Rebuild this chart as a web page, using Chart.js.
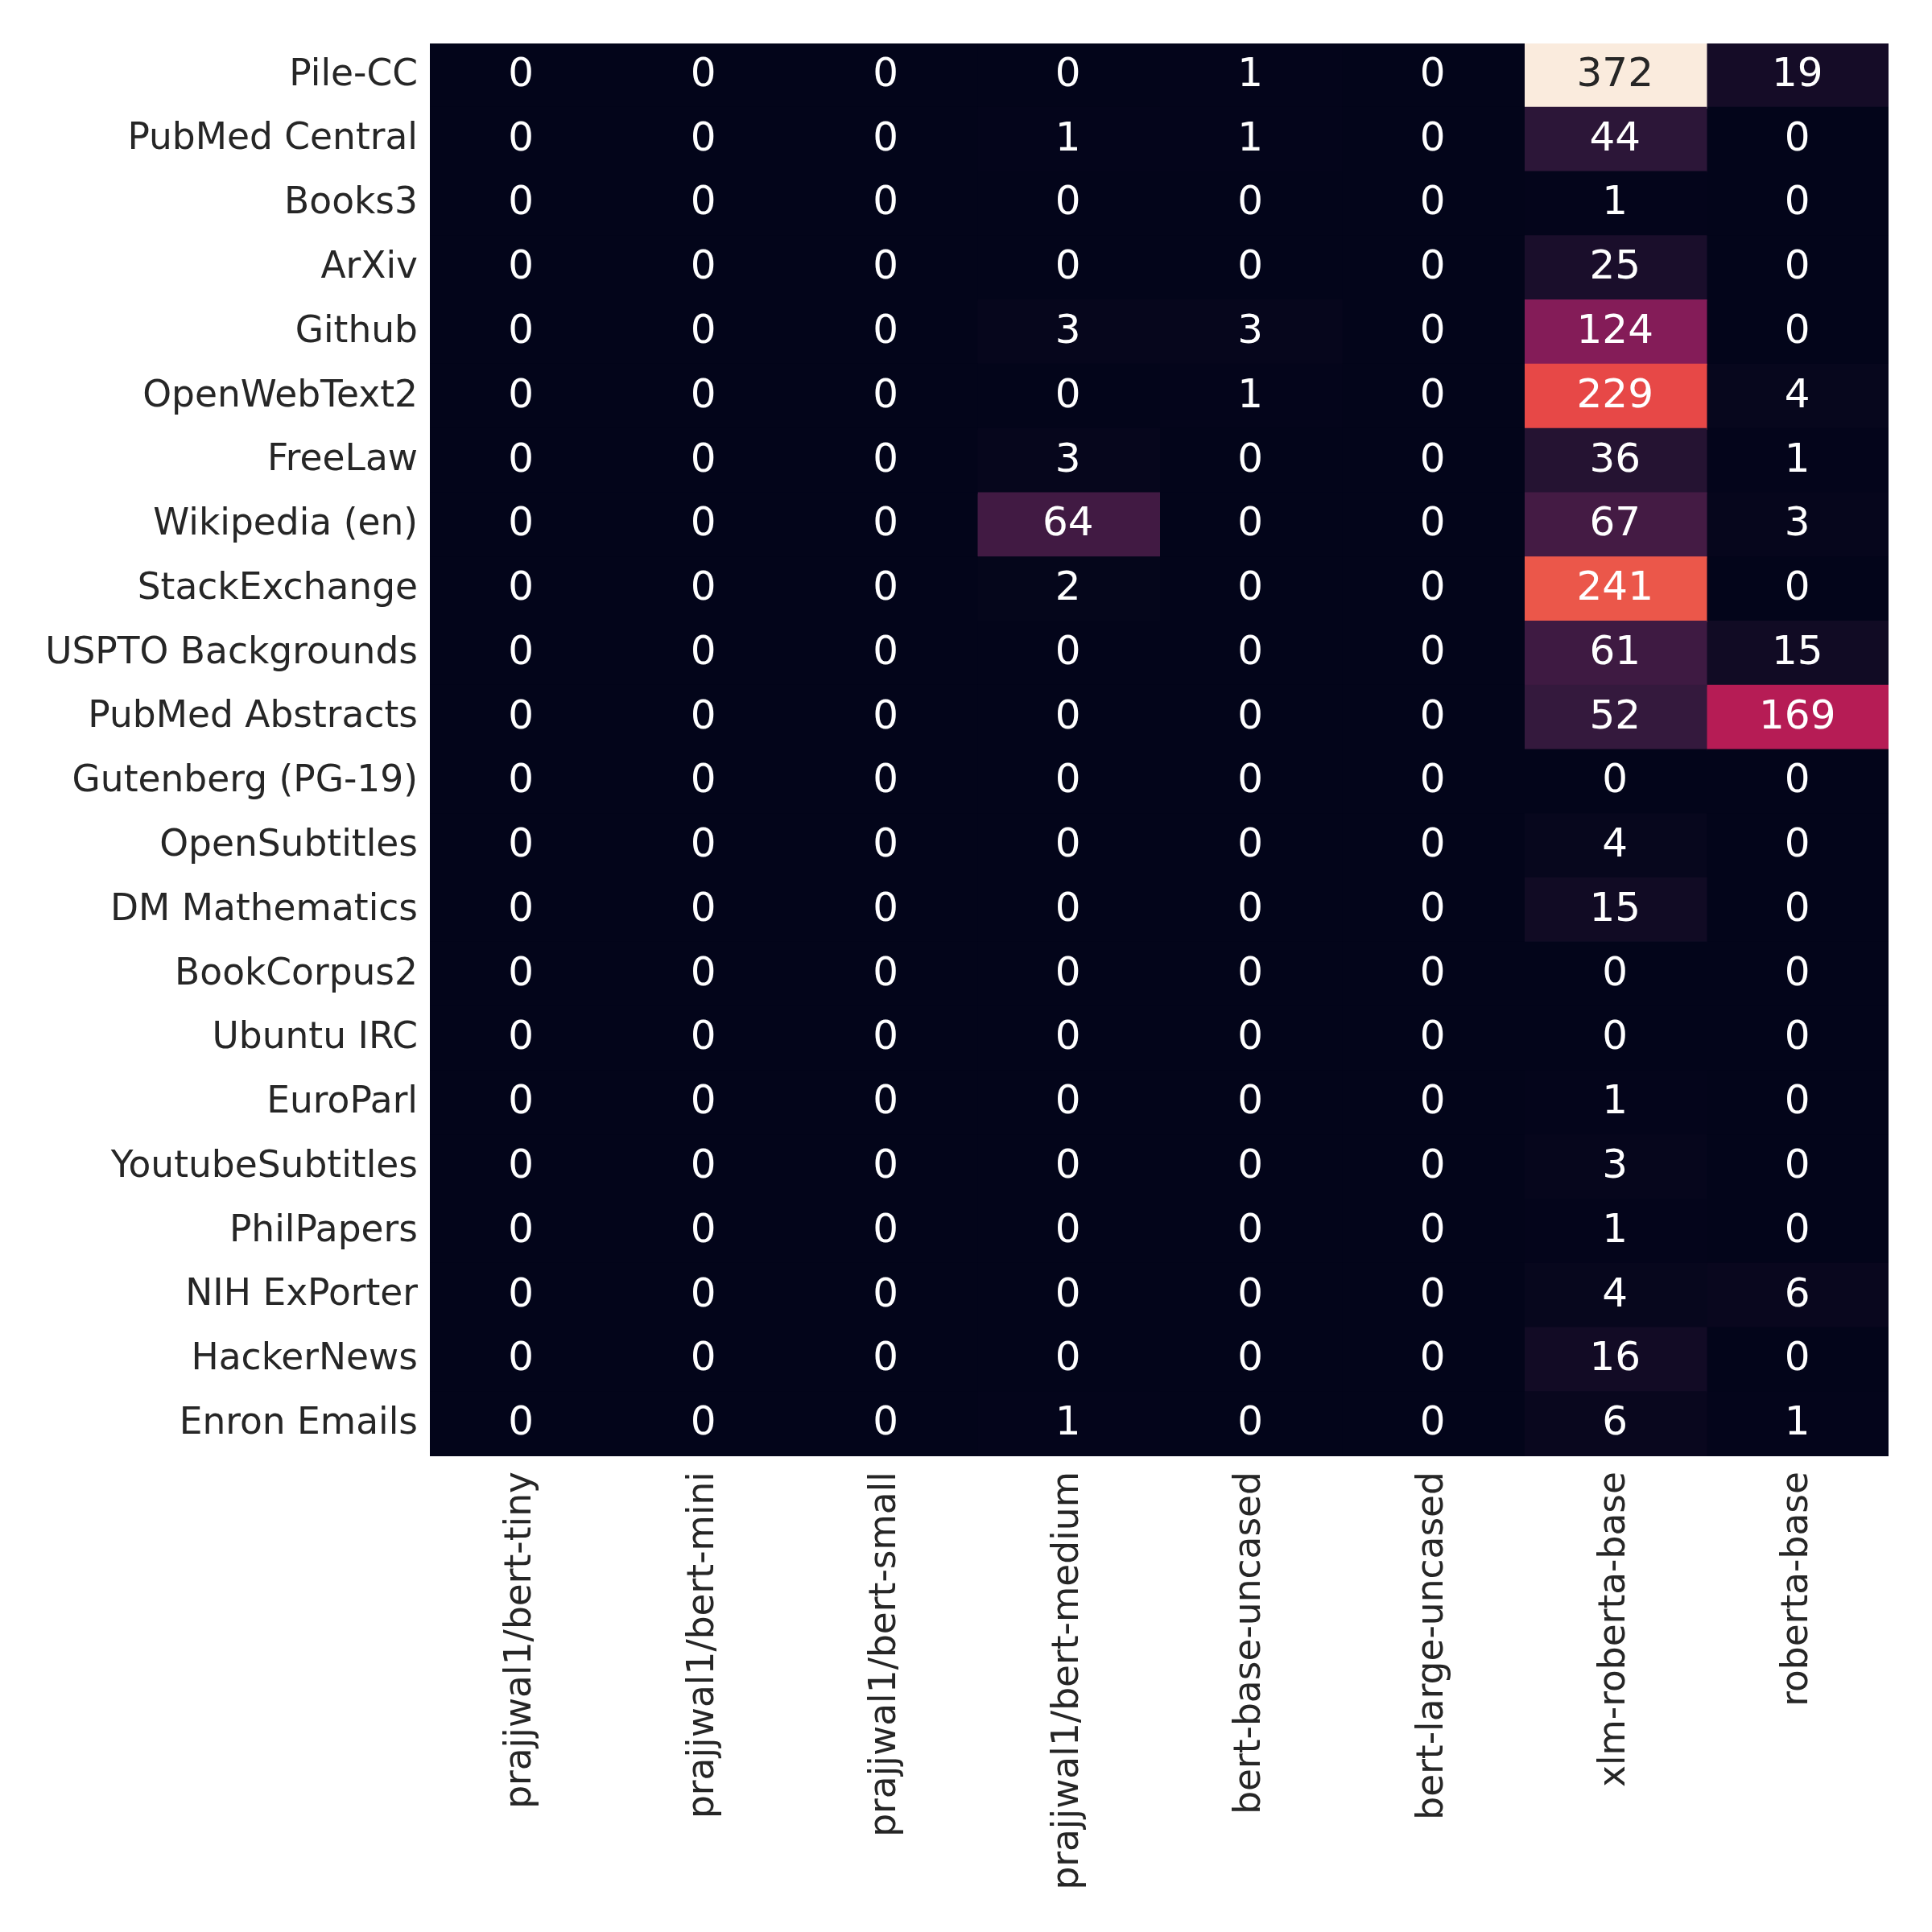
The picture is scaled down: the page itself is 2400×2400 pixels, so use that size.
<!DOCTYPE html>
<html>
<head>
<meta charset="utf-8">
<script src="https://cdn.jsdelivr.net/npm/chart.js@4/dist/chart.umd.min.js"></script>
<style>
  html, body { margin: 0; padding: 0; background: #ffffff; }
  #wrap { width: 2400px; height: 2400px; }
</style>
</head>
<body>
<div id="wrap"><canvas id="heatmap" width="2400" height="2400"></canvas></div>
<script>
// rows of the heatmap (Pile subsets)
const sources = ['Pile-CC', 'PubMed Central', 'Books3', 'ArXiv', 'Github', 'OpenWebText2', 'FreeLaw',
  'Wikipedia (en)', 'StackExchange', 'USPTO Backgrounds', 'PubMed Abstracts', 'Gutenberg (PG-19)',
  'OpenSubtitles', 'DM Mathematics', 'BookCorpus2', 'Ubuntu IRC', 'EuroParl', 'YoutubeSubtitles',
  'PhilPapers', 'NIH ExPorter', 'HackerNews', 'Enron Emails'];

// columns (models)
const models = ['prajjwal1/bert-tiny', 'prajjwal1/bert-mini', 'prajjwal1/bert-small', 'prajjwal1/bert-medium',
  'bert-base-uncased', 'bert-large-uncased', 'xlm-roberta-base', 'roberta-base'];

// counts per model, one value per source (same order as sources)
const bertTiny   = [0, 0, 0, 0, 0, 0, 0, 0, 0, 0, 0, 0, 0, 0, 0, 0, 0, 0, 0, 0, 0, 0];
const bertMini   = [0, 0, 0, 0, 0, 0, 0, 0, 0, 0, 0, 0, 0, 0, 0, 0, 0, 0, 0, 0, 0, 0];
const bertSmall  = [0, 0, 0, 0, 0, 0, 0, 0, 0, 0, 0, 0, 0, 0, 0, 0, 0, 0, 0, 0, 0, 0];
const bertMedium = [0, 1, 0, 0, 3, 0, 3, 64, 2, 0, 0, 0, 0, 0, 0, 0, 0, 0, 0, 0, 0, 1];
const bertBase   = [1, 1, 0, 0, 3, 1, 0, 0, 0, 0, 0, 0, 0, 0, 0, 0, 0, 0, 0, 0, 0, 0];
const bertLarge  = [0, 0, 0, 0, 0, 0, 0, 0, 0, 0, 0, 0, 0, 0, 0, 0, 0, 0, 0, 0, 0, 0];
const xlmRoberta = [372, 44, 1, 25, 124, 229, 36, 67, 241, 61, 52, 0, 4, 15, 0, 0, 1, 3, 1, 4, 16, 6];
const roberta    = [19, 0, 0, 0, 0, 4, 1, 3, 0, 15, 169, 0, 0, 0, 0, 0, 0, 0, 0, 6, 0, 1];

const columns = [bertTiny, bertMini, bertSmall, bertMedium, bertBase, bertLarge, xlmRoberta, roberta];

// seaborn "rocket" colormap, sampled stops
const rocket = [
  [0.000, [3, 5, 26]],
  [0.143, [53, 25, 62]],
  [0.286, [112, 31, 87]],
  [0.429, [173, 23, 89]],
  [0.571, [225, 51, 66]],
  [0.714, [243, 118, 81]],
  [0.857, [246, 180, 143]],
  [1.000, [250, 235, 221]]
];

const vmax = Math.max(...columns.flat());

function rocketRGB(v) {
  const t = Math.min(1, Math.max(0, v / vmax));
  for (let i = 1; i < rocket.length; i++) {
    if (t <= rocket[i][0]) {
      const [t0, c0] = rocket[i - 1];
      const [t1, c1] = rocket[i];
      const f = (t - t0) / (t1 - t0);
      return c0.map((c, k) => Math.round(c + (c1[k] - c) * f));
    }
  }
  return rocket[rocket.length - 1][1];
}

function rgbStr(c) {
  return 'rgb(' + c.join(',') + ')';
}

function luminance(c) {
  const lin = c.map(x => {
    x = x / 255;
    return x <= 0.03928 ? x / 12.92 : Math.pow((x + 0.055) / 1.055, 2.4);
  });
  return 0.2126 * lin[0] + 0.7152 * lin[1] + 0.0722 * lin[2];
}

// each model becomes one dataset of floating horizontal bars spanning its column
const datasets = columns.map((vals, ci) => ({
  label: models[ci],
  data: vals.map(() => [ci, ci + 1]),
  counts: vals,
  backgroundColor: vals.map(v => rgbStr(rocketRGB(v))),
  borderWidth: 0,
  inflateAmount: 1,
  barPercentage: 1,
  categoryPercentage: 1
}));

// draw the count in the middle of every cell
const cellLabels = {
  id: 'cellLabels',
  afterDatasetsDraw(chart) {
    const ctx = chart.ctx;
    ctx.save();
    ctx.font = '50px "DejaVu Sans"';
    ctx.textAlign = 'center';
    ctx.textBaseline = 'alphabetic';
    chart.data.datasets.forEach((ds, di) => {
      chart.getDatasetMeta(di).data.forEach((bar, ri) => {
        const v = ds.counts[ri];
        const p = bar.getCenterPoint();
        ctx.fillStyle = luminance(rocketRGB(v)) > 0.408 ? '#262626' : '#ffffff';
        ctx.fillText(String(v), p.x, p.y + 13);
      });
    });
    ctx.restore();
  }
};

new Chart(document.getElementById('heatmap'), {
  type: 'bar',
  data: {
    labels: sources,
    datasets: datasets
  },
  options: {
    indexAxis: 'y',
    responsive: false,
    animation: false,
    devicePixelRatio: 1,
    layout: {
      padding: { left: 0, top: 54, right: 54, bottom: 0 }
    },
    scales: {
      x: {
        type: 'linear',
        min: 0,
        max: models.length,
        grid: { display: false, drawTicks: false },
        border: { display: false },
        afterBuildTicks: (scale) => {
          scale.ticks = models.map((m, i) => ({ value: i + 0.5 }));
        },
        afterFit: (scale) => { scale.height = 591; },
        ticks: {
          autoSkip: false,
          minRotation: 90,
          maxRotation: 90,
          padding: 19,
          color: '#262626',
          font: { family: 'DejaVu Sans', size: 45.5 },
          callback: (v) => models[Math.floor(v)]
        }
      },
      y: {
        type: 'category',
        stacked: true,
        grid: { display: false, drawTicks: false },
        border: { display: false },
        afterFit: (scale) => { scale.width = 534; },
        ticks: {
          padding: 15,
          color: '#262626',
          font: { family: 'DejaVu Sans', size: 45.5 }
        }
      }
    },
    plugins: {
      legend: { display: false },
      tooltip: { enabled: false }
    }
  },
  plugins: [cellLabels]
});
</script>
</body>
</html>
